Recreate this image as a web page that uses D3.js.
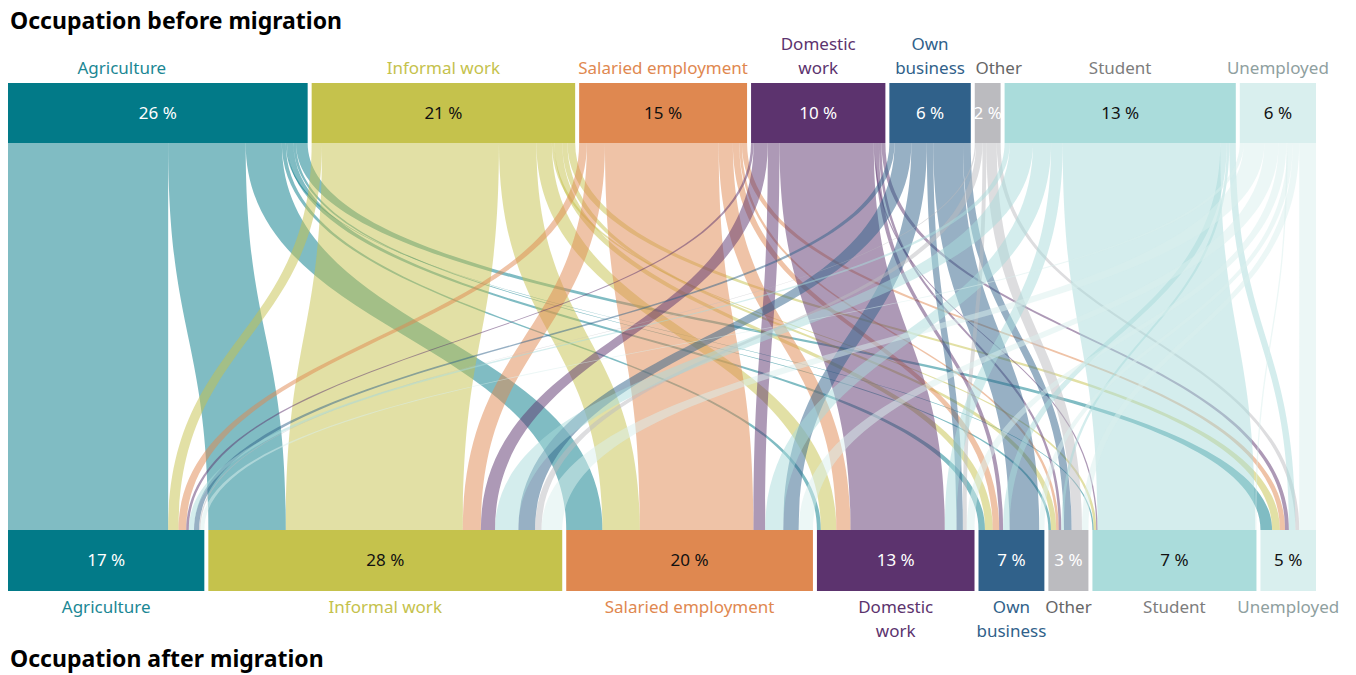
<!DOCTYPE html>
<html>
<head>
<meta charset="utf-8">
<script src="https://cdn.jsdelivr.net/npm/d3@7"></script>
<style>
  body { margin: 0; background: #fff; }
  svg text { font-family: "Noto Sans", "Open Sans", sans-serif; font-stretch: semi-condensed; }
  .title { font-weight: bold; font-size: 23px; fill: #000; }
  .cat { font-size: 17px; }
  .pct { font-size: 17px; }
</style>
</head>
<body>
<svg width="1356" height="675"></svg>
<script>
// categories (same list before and after migration)
var categories = ["Agriculture", "Informal work", "Salaried employment", "Domestic work",
                  "Own business", "Other", "Student", "Unemployed"];
// labels as printed, wrapped
var catLines = [["Agriculture"], ["Informal work"], ["Salaried employment"], ["Domestic", "work"],
                ["Own", "business"], ["Other"], ["Student"], ["Unemployed"]];

// printed shares (%)
var shareBefore = [26, 21, 15, 10, 6, 2, 13, 6];
var shareAfter  = [17, 28, 20, 13, 7, 3, 7, 5];

// flows: rows = occupation before, columns = occupation after (% of migrants)
var flowAgriculture = [12.4, 6.0, 2.8, 0.3, 0.5, 0.2, 0.1, 0.9];
var flowInformal    = [0.8, 13.7, 2.9, 1.2, 0.6, 0.4, 0.2, 0.6];
var flowSalaried    = [0.6, 1.4, 8.8, 1.1, 0.5, 0.2, 0.0, 0.4];
var flowDomestic    = [0.2, 1.1, 0.9, 7.3, 0.3, 0.2, 0.1, 0.3];
var flowOwnBusiness = [0.4, 1.3, 1.2, 0.5, 2.3, 0.6, 0.0, 0.0];
var flowOther       = [0.1, 0.5, 0.0, 0.3, 0.0, 0.8, 0.0, 0.3];
var flowStudent     = [0.4, 1.8, 1.4, 0.9, 0.5, 0.2, 12.2, 0.5];
var flowUnemployed  = [0.3, 1.6, 1.1, 0.6, 0.4, 0.5, 0.1, 1.3];

var flows = [flowAgriculture, flowInformal, flowSalaried, flowDomestic,
             flowOwnBusiness, flowOther, flowStudent, flowUnemployed];

var nodeColor  = ["#027a88", "#c5c24c", "#df8850", "#5c336e", "#30618a", "#bbbbbf", "#aadcdb", "#d9efee"];
var labelColor = ["#1b8794", "#c5c24c", "#df8850", "#5c336e", "#30618a", "#666666", "#7d7d7d", "#8fa0a0"];
var pctColor   = ["#fff", "#111", "#111", "#fff", "#fff", "#fff", "#111", "#111"];

// order in which bands leave / enter a block
var bandOrder = [0, 1, 2, 3, 6, 4, 5, 7];

var svg = d3.select("svg"),
    left = 8, right = 1316, gap = 4,
    topY0 = 83, topY1 = 143, botY0 = 530, botY1 = 591;

var n = categories.length;
var outSum = flows.map(function(r) { return d3.sum(r); });
var inSum = categories.map(function(c, j) { return d3.sum(flows, function(r) { return r[j]; }); });
var total = d3.sum(outSum);

var w = d3.scaleLinear().domain([0, total]).range([0, right - left - gap * (n - 1)]);

function layout(sums) {
  var x = left;
  return sums.map(function(v) {
    var node = {x0: x, x1: x + w(v)};
    x = node.x1 + gap;
    return node;
  });
}
var topNodes = layout(outSum), botNodes = layout(inSum);

// build links
var links = [];
flows.forEach(function(row, i) {
  row.forEach(function(v, j) {
    if (v > 0) links.push({s: i, t: j, v: v});
  });
});
// source side offsets
topNodes.forEach(function(node, i) {
  var x = node.x0;
  bandOrder.forEach(function(j) {
    var l = links.find(function(d) { return d.s === i && d.t === j; });
    if (l) { l.sx0 = x; x += w(l.v); l.sx1 = x; }
  });
});
// target side offsets
botNodes.forEach(function(node, j) {
  var x = node.x0;
  bandOrder.forEach(function(i) {
    var l = links.find(function(d) { return d.s === i && d.t === j; });
    if (l) { l.tx0 = x; x += w(l.v); l.tx1 = x; }
  });
});

function band(d) {
  var ym = (topY1 + botY0) / 2;
  return "M" + d.sx0 + "," + topY1 +
    "C" + d.sx0 + "," + ym + " " + d.tx0 + "," + ym + " " + d.tx0 + "," + botY0 +
    "L" + d.tx1 + "," + botY0 +
    "C" + d.tx1 + "," + ym + " " + d.sx1 + "," + ym + " " + d.sx1 + "," + topY1 + "Z";
}

svg.append("g").selectAll("path")
  .data(links)
  .enter().append("path")
    .attr("d", band)
    .attr("fill", function(d) { return nodeColor[d.s]; })
    .attr("fill-opacity", 0.5);

// blocks
function drawRow(nodes, shares, y0, y1) {
  var g = svg.append("g");
  g.selectAll("rect")
    .data(nodes)
    .enter().append("rect")
      .attr("x", function(d) { return d.x0; })
      .attr("y", y0)
      .attr("width", function(d) { return d.x1 - d.x0; })
      .attr("height", y1 - y0)
      .attr("fill", function(d, i) { return nodeColor[i]; });
  g.selectAll("text")
    .data(nodes)
    .enter().append("text")
      .attr("class", "pct")
      .attr("x", function(d) { return (d.x0 + d.x1) / 2; })
      .attr("y", (y0 + y1) / 2)
      .attr("dy", "0.35em")
      .attr("text-anchor", "middle")
      .attr("fill", function(d, i) { return pctColor[i]; })
      .text(function(d, i) { return shares[i] + " %"; });
}
drawRow(topNodes, shareBefore, topY0, topY1);
drawRow(botNodes, shareAfter, botY0, botY1);

// category labels
var topNudge = {0: -36, 5: 11};
svg.append("g").selectAll("text")
  .data(topNodes)
  .enter().append("text")
    .attr("class", "cat")
    .attr("text-anchor", "middle")
    .attr("fill", function(d, i) { return labelColor[i]; })
    .each(function(d, i) {
      var lines = catLines[i], cx = (d.x0 + d.x1) / 2 + (topNudge[i] || 0);
      var t = d3.select(this);
      lines.forEach(function(s, k) {
        t.append("tspan").attr("x", cx).attr("y", 74 - (lines.length - 1 - k) * 24).text(s);
      });
    });

svg.append("g").selectAll("text")
  .data(botNodes)
  .enter().append("text")
    .attr("class", "cat")
    .attr("text-anchor", "middle")
    .attr("fill", function(d, i) { return labelColor[i]; })
    .each(function(d, i) {
      var cx = (d.x0 + d.x1) / 2, t = d3.select(this);
      catLines[i].forEach(function(s, k) {
        t.append("tspan").attr("x", cx).attr("y", 613 + k * 24).text(s);
      });
    });

svg.append("text").attr("class", "title").attr("x", 10).attr("y", 29).text("Occupation before migration");
svg.append("text").attr("class", "title").attr("x", 10).attr("y", 667).text("Occupation after migration");
</script>
</body>
</html>
